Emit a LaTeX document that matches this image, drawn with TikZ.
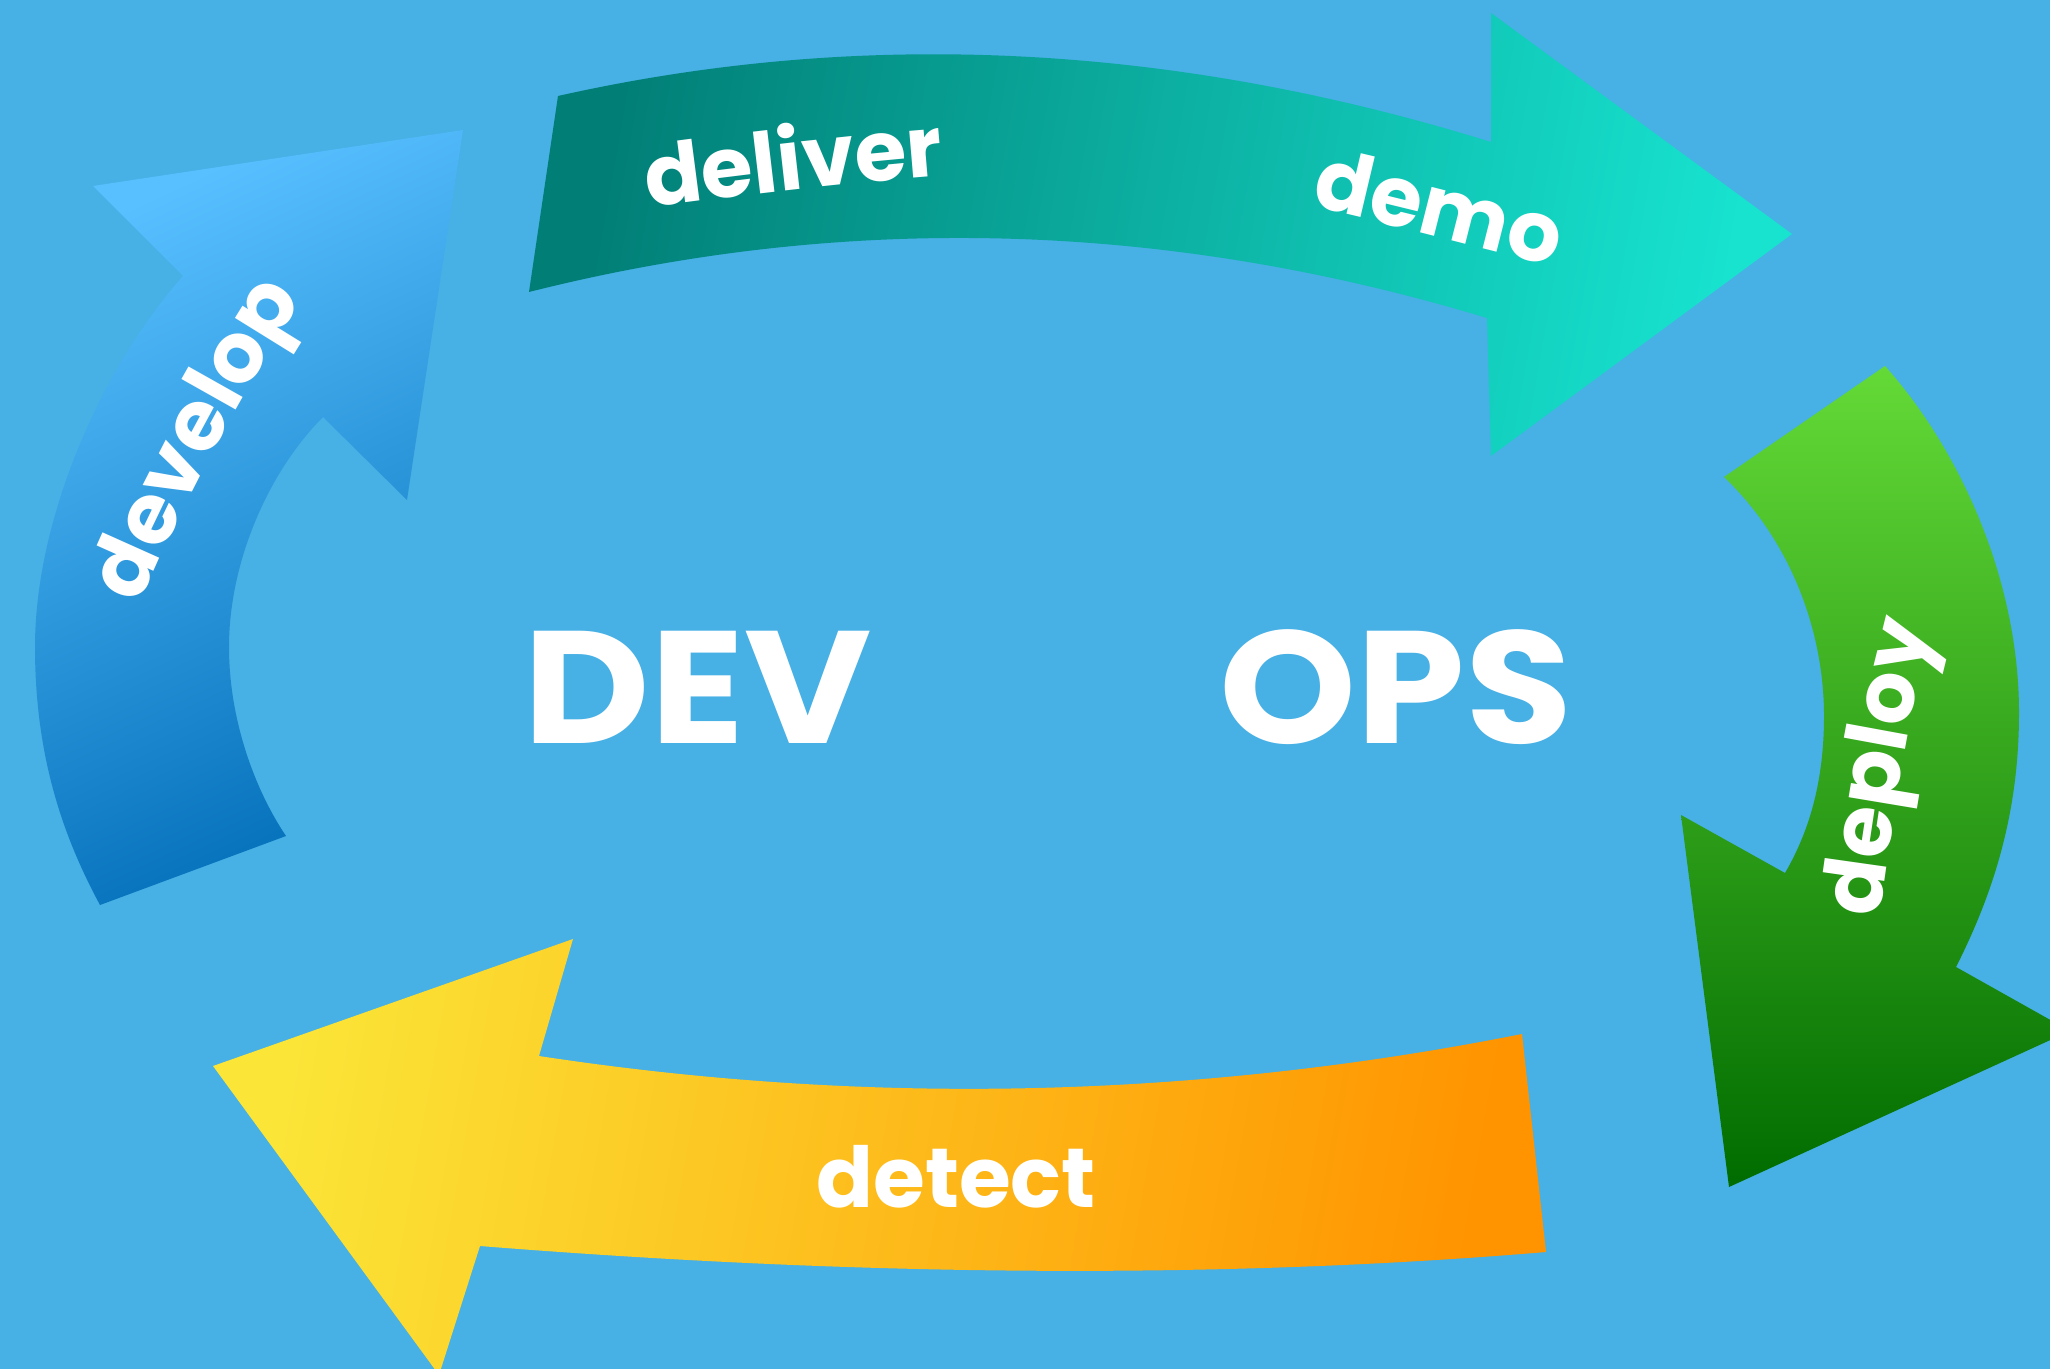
\documentclass[tikz,border=0pt]{standalone}
\usepackage{fontspec}
\newfontfamily\pop{Poppins}
\usetikzlibrary{decorations.text}
\definecolor{bg}{HTML}{47B0E5}
\definecolor{tealA}{HTML}{017E76}
\definecolor{tealB}{HTML}{17E3CF}
\definecolor{blueA}{HTML}{58C0FF}
\definecolor{blueB}{HTML}{0470BA}
\definecolor{greenA}{HTML}{64DA37}
\definecolor{greenB}{HTML}{006C00}
\definecolor{orA}{HTML}{FBE537}
\definecolor{orB}{HTML}{FF9400}
\newcommand\wordfont{\pop\bfseries\fontsize{42}{42}\selectfont}
\newcommand\bigfont{\pop\bfseries\fontsize{80}{80}\selectfont}
\begin{document}
\begin{tikzpicture}[x=0.5pt,y=-0.5pt,
  word/.style={decorate,decoration={text along path,text align=left,text color=white}},
  big/.style={text=white,font=\bigfont,inner sep=0pt,anchor=base,xscale=1.09},
  small/.style={text=white,font=\wordfont,inner sep=0pt,anchor=base}]
\clip (0,0) rectangle (2050,1369);
\fill[bg] (0,0) rectangle (2050,1369);
% top arrow (deliver / demo)
\shade[left color=tealA,right color=tealB,shading angle=80]
  (558,96) .. controls (861,28) and (1172,43) .. (1491,142) -- (1491,13) -- (1792,234)
  -- (1491,456) -- (1487,318) .. controls (1166,221) and (846,212) .. (529,292) -- cycle;
% left arrow (develop)
\shade[top color=blueA,bottom color=blueB,shading angle=25]
  (183,276) -- (93,186) -- (463,130) -- (407,500) -- (323,417)
  .. controls (270,470) and (229,560) .. (229,647)
  .. controls (229,720) and (255,790) .. (286,836) -- (100,905)
  .. controls (65,840) and (35,760) .. (35,647)
  .. controls (35,520) and (100,370) .. (183,276) -- cycle;
% right arrow (deploy)
\shade[top color=greenA,bottom color=greenB]
  (1724,477) -- (1885,366) .. controls (1960,450) and (2019,580) .. (2019,713)
  .. controls (2019,810) and (1995,890) .. (1956,967) -- (2070,1031) -- (1729,1187)
  -- (1681,815) -- (1785,873) .. controls (1810,830) and (1824,780) .. (1824,716)
  .. controls (1824,630) and (1790,540) .. (1724,477) -- cycle;
% bottom arrow (detect)
\shade[left color=orA,right color=orB,shading angle=80]
  (1522,1034) .. controls (1195,1099) and (867,1106) .. (539,1056) -- (573,939)
  -- (213,1066) -- (439,1375) -- (480,1246) .. controls (869,1277) and (1224,1279) .. (1546,1252) -- cycle;
% words along the arrows
\path[word,decoration={text={|\wordfont|deliver}}]
  (648,208) .. controls (768,192) and (888,178) .. (1018,170);
\path[word,decoration={text={|\wordfont|demo}}]
  (1310,206) .. controls (1400,227) and (1500,252) .. (1620,285);
\path[word,decoration={text={|\wordfont|develop}}]
  (139,606) .. controls (186,497) and (243,391) .. (308,290) -- (339,236);
\path[word,decoration={text={|\wordfont|deploy}}]
  (1879,918) .. controls (1893,819) and (1911,688) .. (1943,590) -- (1958,540);
\node[small] (detect) at (956,1207) {detect};
\node[big] (dev) at (698,743) {DEV};
\node[big] (ops) at (1396,743) {OPS};
\end{tikzpicture}
\end{document}
